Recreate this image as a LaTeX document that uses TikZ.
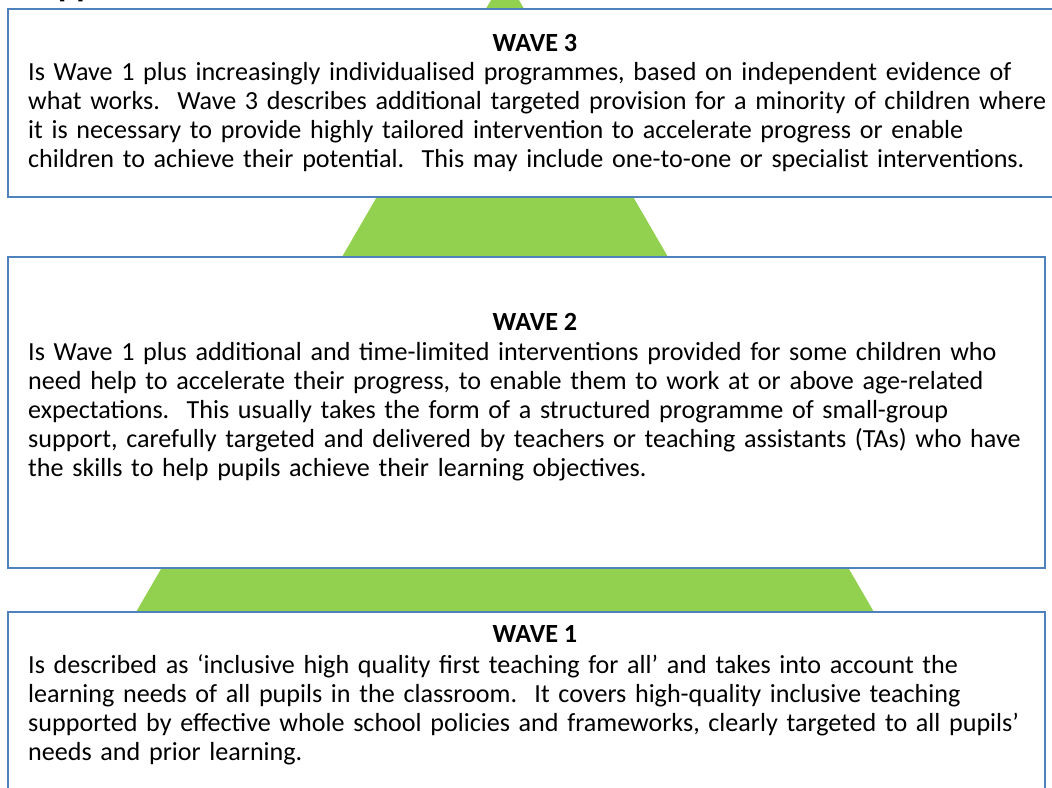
\documentclass[tikz,border=0pt]{standalone}
\usepackage{fontspec}
\setmainfont{Carlito}
\definecolor{boxblue}{RGB}{79,129,189}
\definecolor{wavegreen}{RGB}{146,208,80}
\begin{document}
\frenchspacing
\begin{tikzpicture}[x=1pt,y=-1pt,
  box/.style={draw=boxblue,line width=1.4pt,fill=white},
  wtitle/.style={anchor=base,font=\fontsize{26.2}{29}\selectfont\bfseries,inner sep=0pt},
  wbody/.style={anchor=base west,align=left,text width=1040pt,font=\fontsize{26.1}{29}\selectfont,inner sep=0pt}]
\useasboundingbox (0,0) rectangle (1052,787);
% partial heading cut by the top edge
\begin{scope}
\clip (0,0) rectangle (1052,787);
\node[anchor=base west,font=\fontsize{34}{40}\selectfont\bfseries,inner sep=0pt] (head) at (58,-4) {pp};
\end{scope}
% pyramid
\fill[wavegreen] (505,-24) -- (983,800) -- (27,800) -- cycle;
% boxes
\draw[box] (8,9) rectangle (1062,197);
\draw[box] (8,257) rectangle (1045,568);
\draw[box] (8,612) rectangle (1045,800);
% wave 3
\node[wtitle] (t3) at (535,51) {WAVE 3};
\node[wbody] (b3) at (28,80) {Is Wave 1 plus increasingly individualised programmes, based on independent evidence of\\
what works.\ \ Wave 3 describes additional targeted provision for a minority of children where\\
it is necessary to provide highly tailored intervention to accelerate progress or enable\\
children to achieve their potential.\ \ This may include one-to-one or specialist interventions.};
% wave 2
\node[wtitle] (t2) at (535,330) {WAVE 2};
\node[wbody] (b2) at (28,360) {Is Wave 1 plus additional and time-limited interventions provided for some children who\\
need help to accelerate their progress, to enable them to work at or above age-related\\
expectations.\ \ This usually takes the form of a structured programme of small-group\\
support, carefully targeted and delivered by teachers or teaching assistants (TAs) who have\\
the skills to help pupils achieve their learning objectives.};
% wave 1
\node[wtitle] (t1) at (535,642) {WAVE 1};
\node[wbody] (b1) at (28,673) {Is described as ‘inclusive high quality first teaching for all’ and takes into account the\\
learning needs of all pupils in the classroom.\ \ It covers high-quality inclusive teaching\\
supported by effective whole school policies and frameworks, clearly targeted to all pupils’\\
needs and prior learning.};
\end{tikzpicture}
\end{document}
